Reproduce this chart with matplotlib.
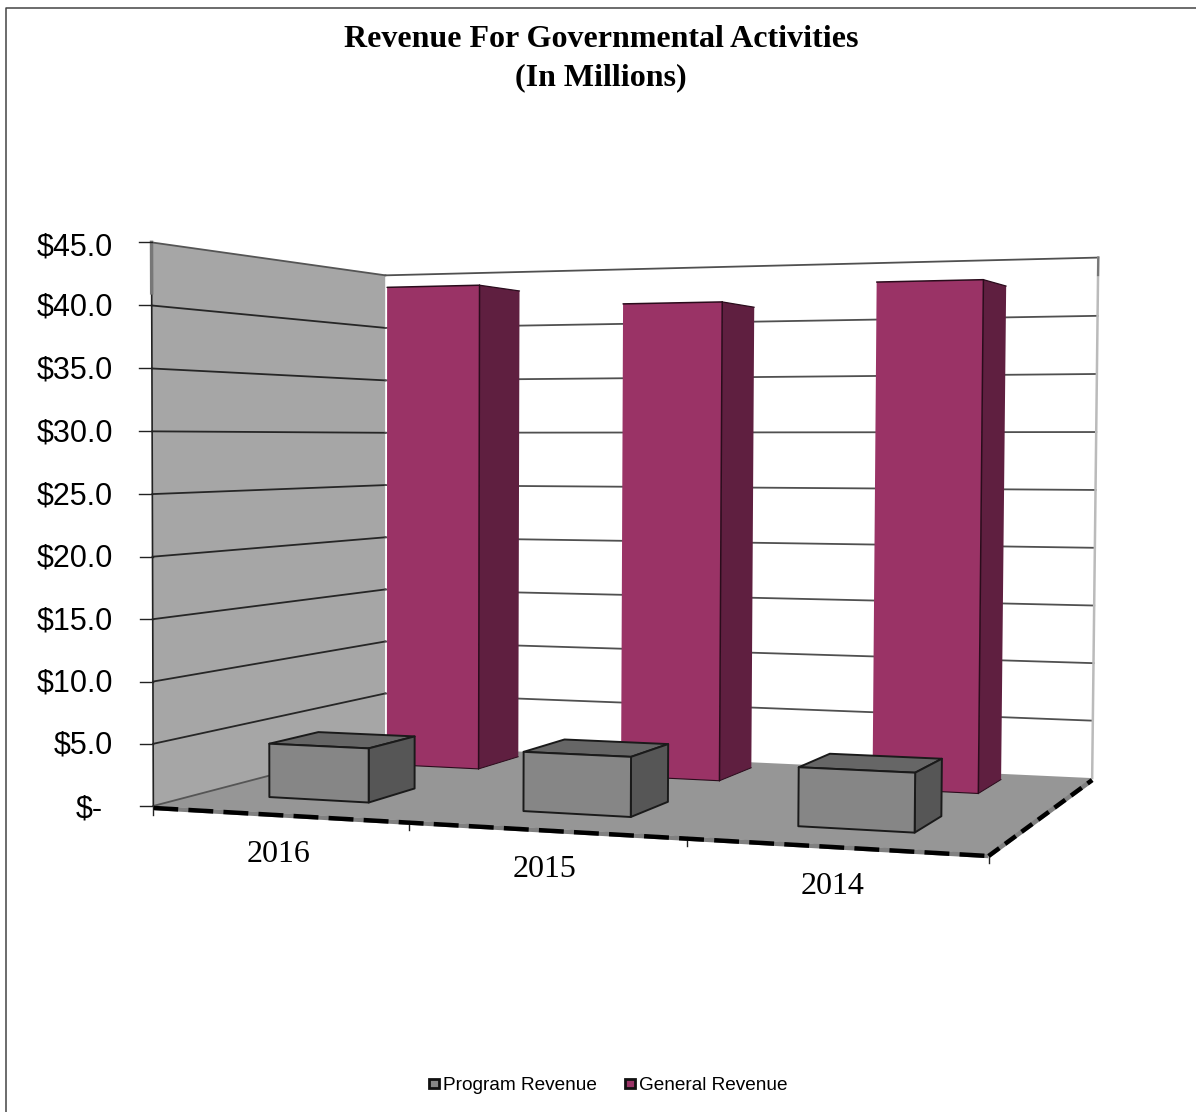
import numpy as np
import matplotlib
matplotlib.use("Agg")
import matplotlib.pyplot as plt
from matplotlib.patches import Polygon, Rectangle

# Chart data, in millions of dollars
years = ["2016", "2015", "2014"]
program_revenue = [4.4, 4.7, 4.5]
general_revenue = [43.0, 41.1, 42.5]
series_names = ["Program Revenue", "General Revenue"]
value_ticks = [0, 5, 10, 15, 20, 25, 30, 35, 40, 45]
value_tick_labels = ["$-", "$5.0", "$10.0", "$15.0", "$20.0", "$25.0", "$30.0", "$35.0", "$40.0", "$45.0"]
title_lines = "Revenue For Governmental Activities\n(In Millions)"

W, H = 1196, 1112
VMAX = 45.0
NX = len(years)

# Camera calibration: plot-box corners (category, depth, value) to canvas pixels
box_points = [
    ((0, 0, 0), (153, 805)), ((3, 0, 0), (987, 856)), ((0, 1, 0), (385, 745)),
    ((3, 1, 0), (1093, 775)), ((0, 0, 45), (152, 240)), ((0, 1, 45), (385, 275)),
    ((3, 1, 45), (1097, 258)), ((0, 0, 20), (153, 556)), ((0, 1, 20), (385, 539)),
    ((3, 1, 20), (1096, 547)), ((1, 0, 0), (410, 821)), ((2, 0, 0), (686, 838)),
    ((0, 0, 30), (153, 432)), ((0, 1, 30), (385, 434)), ((3, 1, 30), (1097, 433)),
]


def solve_camera(points):
    rows = []
    for (x, d, v), (u, w) in points:
        X = [x, d, v / VMAX, 1.0]
        rows.append(X + [0.0] * 4 + [-u * c for c in X])
        rows.append([0.0] * 4 + X + [-w * c for c in X])
    return np.linalg.svd(np.array(rows))[2][-1].reshape(3, 4)


CAMERA = solve_camera(box_points)


def project(x, d, v):
    q = CAMERA @ np.array([x, d, v / VMAX, 1.0])
    return q[:2] / q[2]


def face(corners, zorder, **style):
    ax.add_patch(Polygon([project(*c) for c in corners], closed=True, zorder=zorder, **style))


def segment(a, b, zorder=2, **style):
    pa, pb = project(*a), project(*b)
    ax.plot([pa[0], pb[0]], [pa[1], pb[1]], zorder=zorder, **style)


def outlined_box(x0, x1, d0, d1, value, front, side, top, edge, lw, zorder):
    common = dict(edgecolor=edge, linewidth=lw, joinstyle="round")
    face([(x0, d1, value), (x1, d1, value), (x1, d0, value), (x0, d0, value)], zorder, facecolor=top, **common)
    face([(x1, d0, 0), (x1, d1, 0), (x1, d1, value), (x1, d0, value)], zorder, facecolor=side, **common)
    face([(x0, d0, 0), (x1, d0, 0), (x1, d0, value), (x0, d0, value)], zorder, facecolor=front, **common)


def column(x0, x1, d0, d1, value, front, side, edge, zorder):
    # Only the top, the front corner and the foot carry a dark line
    face([(x1, d0, 0), (x1, d1, 0), (x1, d1, value), (x1, d0, value)], zorder, facecolor=side, edgecolor="none")
    face([(x0, d0, 0), (x1, d0, 0), (x1, d0, value), (x0, d0, value)], zorder, facecolor=front, edgecolor="none")
    style = dict(zorder=zorder + 0.1, color=edge, solid_capstyle="round")
    segment((x0, d0, value), (x1, d0, value), lw=1.1, **style)
    segment((x1, d0, value), (x1, d1, value), lw=0.9, **style)
    segment((x1, d0, 0), (x1, d0, value), lw=1.1, **style)
    segment((x0, d0, 0), (x1, d0, 0), lw=0.8, **style)
    segment((x1, d0, 0), (x1, d1, 0), lw=0.7, **style)


fig = plt.figure(figsize=(W / 100, H / 100), dpi=100, facecolor="white")
ax = fig.add_axes([0, 0, 1, 1])
ax.set_xlim(0, W)
ax.set_ylim(H, 0)
ax.axis("off")

SERIF = "Liberation Serif"
SANS = "Liberation Sans"

# Chart frame runs off the canvas on the right and at the bottom
ax.plot([6, 6, W], [H, 8, 8], color="#444444", lw=1.1, zorder=1)

# Walls and floor
face([(0, 0, 0), (0, 1, 0), (0, 1, VMAX), (0, 0, VMAX)], 1, facecolor="#A6A6A6", edgecolor="none")
face([(0, 1, 0), (3, 1, 0), (3, 1, VMAX), (0, 1, VMAX)], 1, facecolor="white", edgecolor="none")
face([(0, 0, 0), (3, 0, 0), (3, 1, 0), (0, 1, 0)], 1.5, facecolor="#969696", edgecolor="none")

# Gridlines on both walls
for v in value_ticks:
    segment((0, 0, v), (0, 1, v), color="#262626" if 0 < v < VMAX else "#555555", lw=1.3)
    if v > 0:
        segment((0, 1, v), (3, 1, v), color="#505050", lw=1.3)

# Wall borders
segment((0, 0, 0), (0, 0, VMAX), color="#222222", lw=1.2)
segment((0, 0, 41), (0, 0, VMAX), color="#777777", lw=2.5)
segment((3, 1, 0), (3, 1, VMAX), color="#BBBBBB", lw=1.8)
segment((3, 1, 43.5), (3, 1, VMAX), color="#777777", lw=1.6)

# Floor edge, a gray rail under black dashes
rail_dashes = {0: (5.6, 2.3), 1: (3.0, 1.6)}
for k, (a, b) in enumerate([((0, 0, 0), (3, 0, 0)), ((3, 0, 0), (3, 1, 0))]):
    pa, pb = project(*a) + np.array([0, 2]), project(*b) + np.array([0, 2])
    ax.plot([pa[0], pb[0]], [pa[1], pb[1]], color="#808080", lw=3.2, solid_capstyle="butt", zorder=3)
    ax.plot([pa[0], pb[0]], [pa[1], pb[1]], color="#000000", lw=3.2,
            dashes=rail_dashes[k], dash_capstyle="butt", zorder=3)

# Tick marks
for v in value_ticks:
    p = project(0, 0, v)
    ax.plot([p[0] - 13, p[0]], [p[1], p[1]], color="#222222", lw=1.0, zorder=2)
for x in range(NX + 1):
    p = project(x, 0, 0)
    ax.plot([p[0], p[0]], [p[1], p[1] + 9], color="#222222", lw=1.0, zorder=2)

# General revenue stands behind program revenue in each category
for i in range(NX):
    column(i + 0.28, i + 0.68, 0.70, 0.915, general_revenue[i],
           "#9A3366", "#5F1F40", "#2A0C1C", 5)
for i in range(NX):
    outlined_box(i + 0.28, i + 0.68, 0.18, 0.385, program_revenue[i],
                 "#868686", "#565656", "#666666", "#1A1A1A", 1.4, 6)

# Value axis labels
for v, label in zip(value_ticks, value_tick_labels):
    p = project(0, 0, v)
    right = 103 if v == 0 else 113
    nudge = {0: 4, 45: 5}.get(v, 2)
    ax.text(right, p[1] + nudge, label, family=SANS, fontsize=22,
            ha="right", va="center", color="black", zorder=7)

# Category labels
for i, label in enumerate(years):
    p = project(i + 0.5, 0, 0)
    ax.text(p[0] - i, p[1] + 41, label, family=SERIF, fontsize=23,
            ha="center", va="center", color="black", zorder=7)

ax.text(601, 59, title_lines, family=SERIF, fontweight="bold", fontsize=23,
        ha="center", va="center", linespacing=1.42, color="black", zorder=7)

# Legend
legend_swatches = ["#868686", "#993366"]
for left, name, colour in zip([428, 624], series_names, legend_swatches):
    ax.add_patch(Rectangle((left + 1, 1078.5), 9.5, 9.5, facecolor=colour, edgecolor="#111111",
                           linewidth=2, zorder=7))
    ax.text(left + 15, 1086, name, family=SANS, fontsize=13.7, ha="left", va="center",
            color="black", zorder=7)

fig.savefig("out.png", dpi=100, facecolor="white")
